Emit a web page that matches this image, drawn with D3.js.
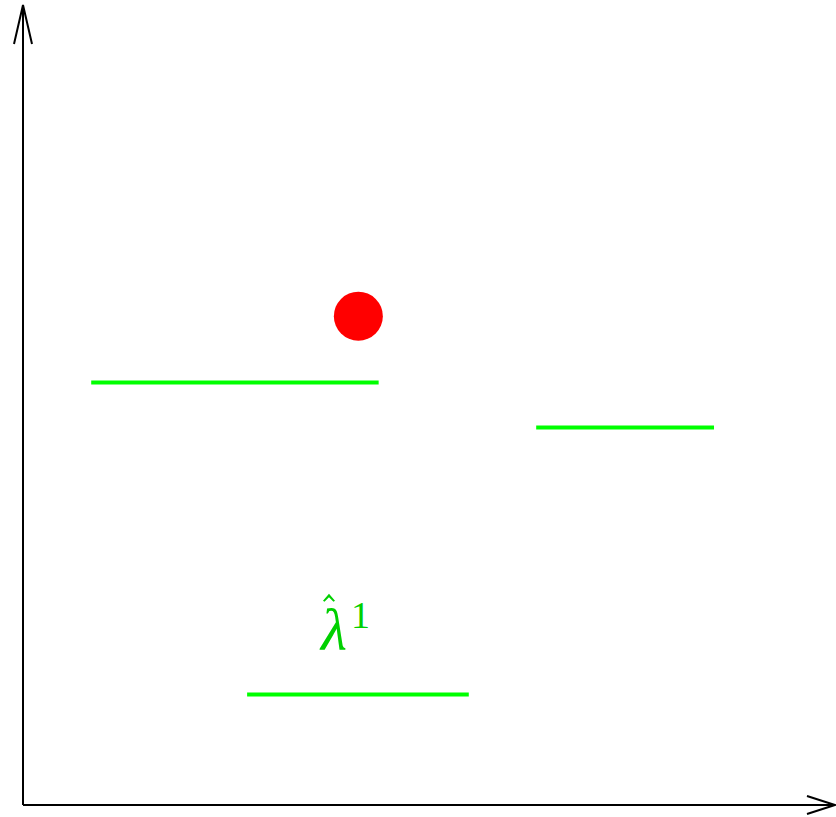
<!DOCTYPE html>
<html>
<head>
<meta charset="utf-8">
<script src="https://cdn.jsdelivr.net/npm/d3@7"></script>
<style>
  html, body { margin: 0; padding: 0; background: #fff; }
  svg { display: block; }
</style>
</head>
<body>
<svg id="chart" width="836" height="817"></svg>
<script>
// Horizontal level segments: start, end, level
const segStart = [0.84, 6.32, 2.76];
const segEnd   = [4.38, 8.51, 5.49];
const segLevel = [5.28, 4.72, 1.38];

// Single highlighted point
const pointX = [4.13];
const pointY = [6.11];

// Label attached to the lowest segment (anchor sits between symbol and index)
const labelX = [3.99];
const labelY = [1.94];

const svg = d3.select("#chart");

const x = d3.scaleLinear().domain([0, 10]).range([23, 835]);
const y = d3.scaleLinear().domain([0, 10]).range([805, 5]);

// Axes drawn as plain arrows
const ax = svg.append("g").attr("stroke", "#000").attr("stroke-width", 2).attr("fill", "none");
ax.append("line").attr("x1", x(0)).attr("y1", y(0)).attr("x2", x(10)).attr("y2", y(0));
ax.append("line").attr("x1", x(0)).attr("y1", y(0)).attr("x2", x(0)).attr("y2", y(10));
ax.append("polyline").attr("points", [
  [x(0) - 9, y(10) + 39], [x(0), y(10)], [x(0) + 9, y(10) + 39]
].map(p => p.join(",")).join(" "));
ax.append("polyline").attr("points", [
  [x(10) - 28, y(0) - 9], [x(10), y(0)], [x(10) - 28, y(0) + 9]
].map(p => p.join(",")).join(" "));

// Green level segments
svg.append("g").selectAll("line")
  .data(d3.range(segStart.length))
  .join("line")
  .attr("x1", i => x(segStart[i]))
  .attr("x2", i => x(segEnd[i]))
  .attr("y1", i => y(segLevel[i]))
  .attr("y2", i => y(segLevel[i]))
  .attr("stroke", "#00ff00")
  .attr("stroke-width", 4);

// Red point
svg.append("g").selectAll("circle")
  .data(d3.range(pointX.length))
  .join("circle")
  .attr("cx", i => x(pointX[i]))
  .attr("cy", i => y(pointY[i]))
  .attr("r", 24.5)
  .attr("fill", "#ff0000");

// Label: lambda with hat accent and superscript 1
const labColor = "#00d000";
const lx = x(labelX[0]), ly = y(labelY[0]);
const lab = svg.append("g").attr("fill", labColor)
  .attr("font-family", "'Liberation Serif', 'DejaVu Serif', serif");
lab.append("text")
  .attr("x", lx).attr("y", ly)
  .attr("text-anchor", "end")
  .attr("font-size", 60)
  .attr("font-style", "italic")
  .text("\u03BB");
lab.append("text")
  .attr("x", lx + 4).attr("y", ly - 22)
  .attr("text-anchor", "start")
  .attr("font-size", 38)
  .text("1");
// hat accent
lab.append("path")
  .attr("d", `M${lx - 24},${ly - 49} L${lx - 18},${ly - 56} L${lx - 12},${ly - 49} L${lx - 13.5},${ly - 48} L${lx - 18},${ly - 52.5} L${lx - 22.5},${ly - 48} Z`);
</script>
</body>
</html>
